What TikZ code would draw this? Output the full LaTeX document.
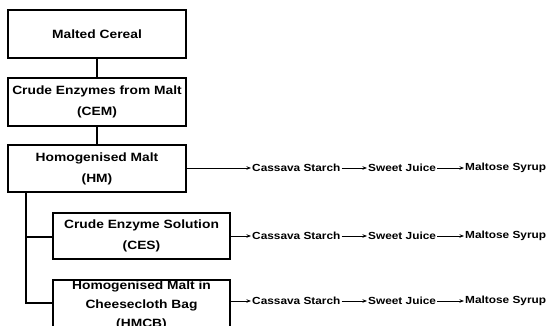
\documentclass[tikz,border=0pt]{standalone}
\usepackage{fontspec}
\setmainfont{Liberation Sans}[FakeStretch=1.15]
\usetikzlibrary{arrows.meta}
\begin{document}
\begin{tikzpicture}[x=1pt,y=-1pt,
  box/.style={draw, line width=1.3pt, minimum width=178pt, minimum height=48pt, inner sep=0pt, align=center, font=\bfseries\fontsize{12}{21}\selectfont},
  lbl/.style={inner sep=1pt, anchor=west, font=\bfseries\fontsize{10.3}{12}\selectfont},
  link/.style={line width=1.3pt},
  arr/.style={line width=0.9pt, -{Stealth[length=4.5pt,width=3.5pt]}}]
\useasboundingbox (0,0) rectangle (546,326);
\clip (0,0) rectangle (546,326);
\node[box] (mc) at (97,34) {Malted Cereal};
\node[box] (cem) at (97,102) {Crude Enzymes from Malt\\(CEM)};
\node[box, minimum height=47pt] (hm) at (97,168.5) {Homogenised Malt\\(HM)};
\node[box, minimum width=177pt, minimum height=46pt] (ces) at (141.5,236) {Crude Enzyme Solution\\(CES)};
\node[box, minimum width=177pt, minimum height=50pt, font=\bfseries\fontsize{12}{19}\selectfont] (hmcb) at (141.5,305) {Homogenised Malt in\\Cheesecloth Bag\\(HMCB)};
\draw[link] (mc) -- (cem);
\draw[link] (cem) -- (hm);
\coordinate (sp) at (26,192);
\coordinate (b1) at (26,237);
\coordinate (b2) at (26,303);
\draw[link] (sp) -- (b2) -- (b2 -| hmcb.west);
\draw[link] (b1) -- (b1 -| ces.west);
% rows
\node[lbl] (cs1) at (251,168) {Cassava Starch};
\node[lbl] (sj1) at (367,168) {Sweet Juice};
\node[lbl] (ms1) at (464,168) {Maltose Syrup};
\node[lbl] (cs2) at (251,236) {Cassava Starch};
\node[lbl] (sj2) at (367,236) {Sweet Juice};
\node[lbl] (ms2) at (464,236) {Maltose Syrup};
\node[lbl] (cs3) at (251,301) {Cassava Starch};
\node[lbl] (sj3) at (367,301) {Sweet Juice};
\node[lbl] (ms3) at (464,301) {Maltose Syrup};
\draw[arr] (hm.east |- cs1) -- (cs1.west);
\draw[arr] (ces.east |- cs2) -- (cs2.west);
\draw[arr] (hmcb.east |- cs3) -- (cs3.west);
\foreach \i in {1,2,3}{
  \draw[arr] (cs\i.east) -- (sj\i.west);
  \draw[arr] (sj\i.east) -- (ms\i.west);
}
\end{tikzpicture}
\end{document}
